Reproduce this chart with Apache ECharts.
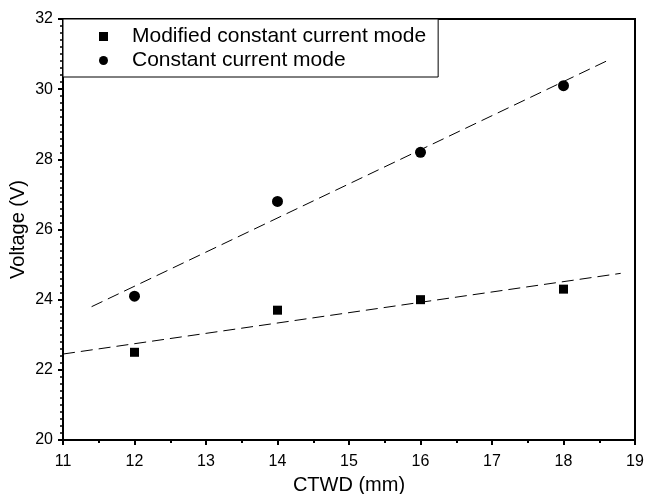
<!DOCTYPE html>
<html>
<head>
<meta charset="utf-8">
<script src="https://cdn.jsdelivr.net/npm/echarts@6/dist/echarts.min.js"></script>
<style>
  html, body { margin: 0; padding: 0; background: #fff; }
  #chart { width: 645px; height: 494px; }
</style>
</head>
<body>
<div id="chart"></div>
<script>
// CTWD (mm) for the measured points
var ctwd = [12, 14, 16, 18];
var modifiedVoltage = [22.5, 23.7, 24.0, 24.3];
var constantVoltage = [24.1, 26.8, 28.2, 30.1];

// dashed fit lines, end points
var modifiedFitX = [11, 18.8];
var modifiedFitY = [22.45, 24.75];
var constantFitX = [11.4, 18.6];
var constantFitY = [23.8, 30.8];

var seriesNames = ['Modified constant current mode', 'Constant current mode'];

function pairs(xs, ys) {
  return xs.map(function (x, i) { return [x, ys[i]]; });
}

var chart = echarts.init(document.getElementById('chart'));

var font = 'Liberation Sans, Arial, sans-serif';

chart.setOption({
  animation: false,
  grid: {
    left: 63,
    right: 10,
    top: 19,
    bottom: 54,
    outerBoundsMode: 'none',
    containLabel: false,
    show: true,
    borderColor: '#000',
    borderWidth: 2
  },
  legend: {
    orient: 'vertical',
    left: 63,
    top: 19,
    padding: [7, 12, 6, 36],
    itemWidth: 9,
    itemHeight: 9,
    itemGap: 3,
    borderColor: '#000',
    borderWidth: 1,
    backgroundColor: '#fff',
    textStyle: { fontFamily: font, fontSize: 21, color: '#000', padding: [0, 0, 0, 19] },
    data: [
      { name: seriesNames[0], icon: 'rect' },
      { name: seriesNames[1], icon: 'circle' }
    ]
  },
  xAxis: {
    type: 'value',
    min: 11,
    max: 19,
    interval: 1,
    name: 'CTWD (mm)',
    nameLocation: 'middle',
    nameGap: 35,
    nameMoveOverlap: false,
    nameTextStyle: { fontFamily: font, fontSize: 20, color: '#000' },
    axisLine: { lineStyle: { color: '#000', width: 2 } },
    axisTick: { length: 5, lineStyle: { color: '#000', width: 2 } },
    minorTick: { show: true, splitNumber: 2, length: 3, lineStyle: { color: '#000', width: 2 } },
    axisLabel: { fontFamily: font, fontSize: 16, color: '#000', margin: 14 },
    splitLine: { show: false }
  },
  yAxis: {
    type: 'value',
    min: 20,
    max: 32,
    interval: 2,
    name: 'Voltage (V)',
    nameLocation: 'middle',
    nameGap: 35,
    nameMoveOverlap: false,
    nameTextStyle: { fontFamily: font, fontSize: 20, color: '#000' },
    axisLine: { lineStyle: { color: '#000', width: 2 } },
    axisTick: { length: 5, lineStyle: { color: '#000', width: 2 } },
    minorTick: { show: true, splitNumber: 10, length: 3, lineStyle: { color: '#000', width: 1.5 } },
    axisLabel: { fontFamily: font, fontSize: 16, color: '#000', margin: 10 },
    splitLine: { show: false }
  },
  series: [
    {
      name: seriesNames[0] + ' fit',
      type: 'line',
      data: pairs(modifiedFitX, modifiedFitY),
      showSymbol: false,
      silent: true,
      lineStyle: { color: '#000', width: 1, type: [12, 6] },
      z: 1
    },
    {
      name: seriesNames[1] + ' fit',
      type: 'line',
      data: pairs(constantFitX, constantFitY),
      showSymbol: false,
      silent: true,
      lineStyle: { color: '#000', width: 1, type: [12, 6] },
      z: 1
    },
    {
      name: seriesNames[0],
      type: 'scatter',
      symbol: 'rect',
      symbolSize: 9,
      itemStyle: { color: '#000', opacity: 1 },
      data: pairs(ctwd, modifiedVoltage),
      z: 3
    },
    {
      name: seriesNames[1],
      type: 'scatter',
      symbol: 'circle',
      symbolSize: 11,
      itemStyle: { color: '#000', opacity: 1 },
      data: pairs(ctwd, constantVoltage),
      z: 3
    }
  ]
});
</script>
</body>
</html>
